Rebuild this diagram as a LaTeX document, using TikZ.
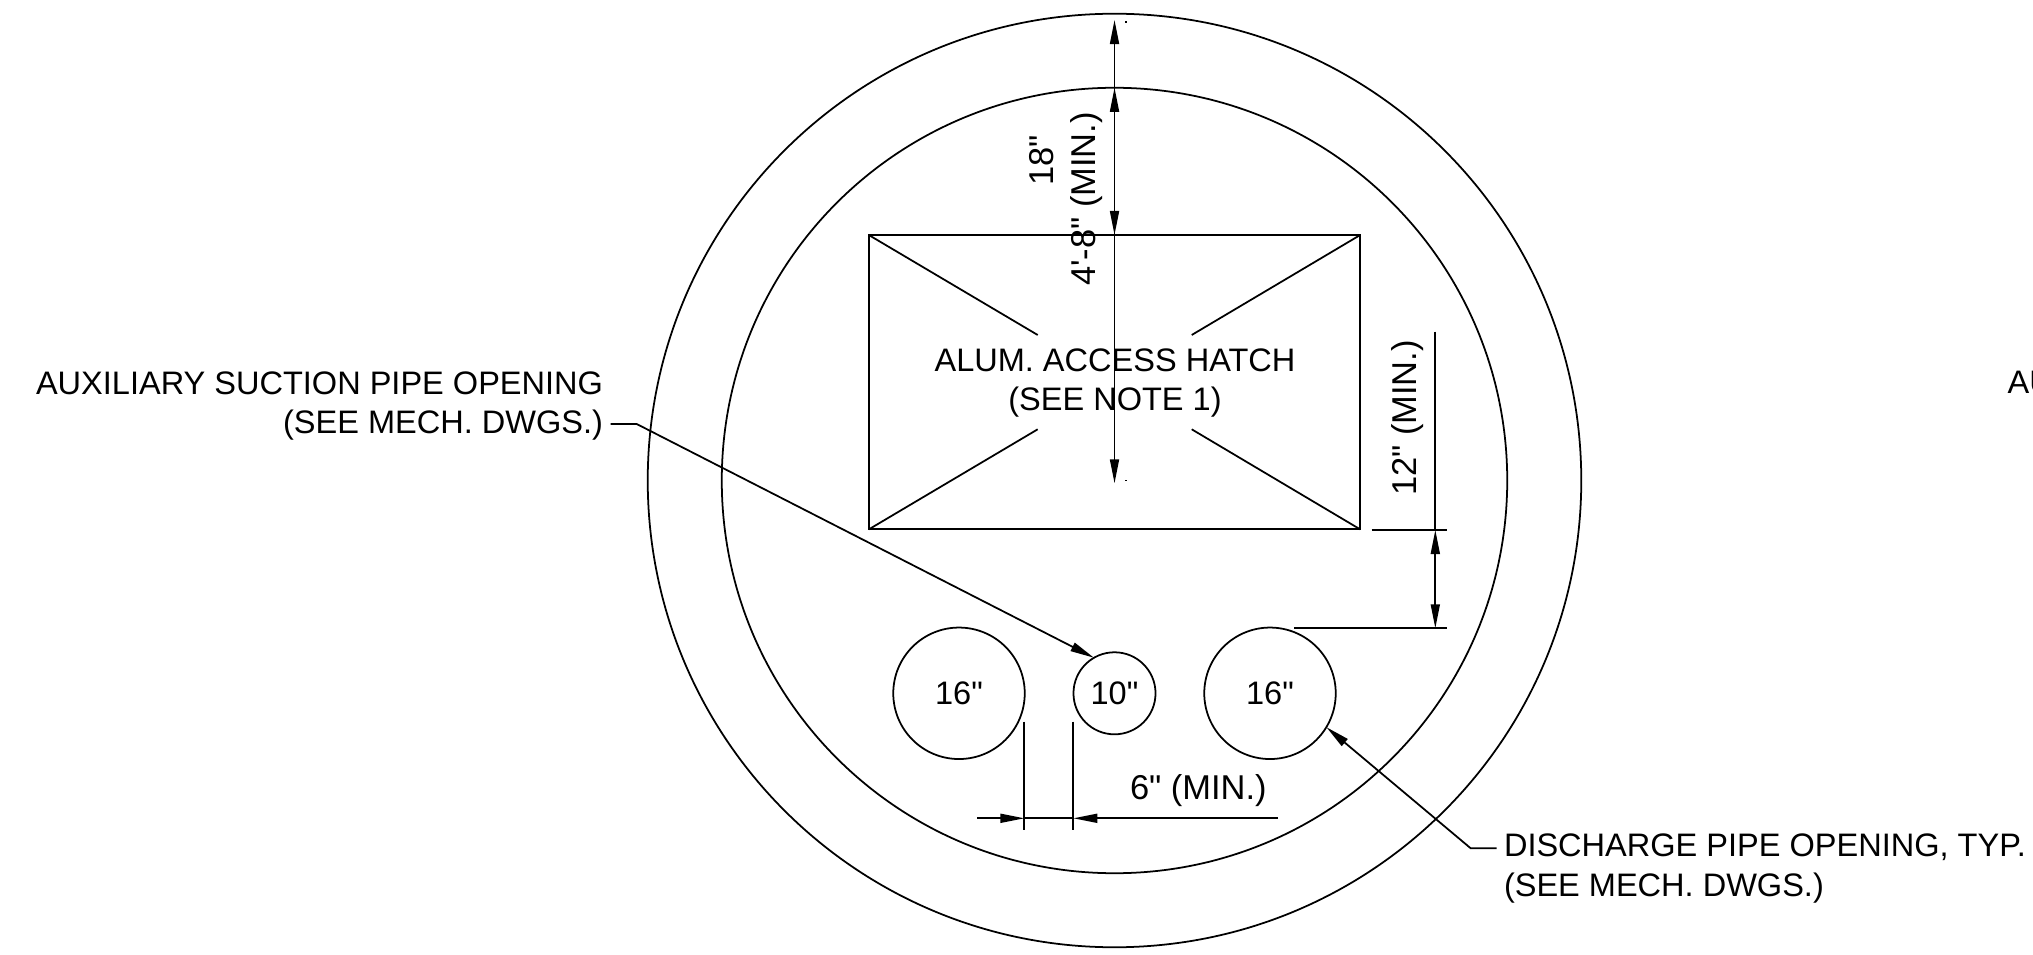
\documentclass[tikz,border=0pt]{standalone}
\usepackage{fontspec}
\newfontfamily\notefont{Liberation Sans}
\usetikzlibrary{arrows.meta}
\tikzset{
    wire/.style={line width=0.5pt},
    dim/.style={wire, {Triangle[length=0.24cm,width=0.09cm]}-{Triangle[length=0.24cm,width=0.09cm]}},
    pointer/.style={wire, -{Triangle[length=0.24cm,width=0.09cm]}},
    ring/.style={circle, draw, wire, inner sep=0pt, outer sep=0pt},
    note/.style={font=\notefont\fontsize{9.25}{11.18}\selectfont, inner sep=0pt, outer sep=0pt},
    dimnote/.style={font=\notefont\fontsize{9.8}{11.8}\selectfont, inner sep=0pt, outer sep=0pt, anchor=base west},
}
\begin{document}
\begin{tikzpicture}[x=0.01cm,y=-0.01cm]
    \useasboundingbox (0,0) rectangle (2033,955);

    \node[ring, minimum size=9.33cm] (outer) at (1114.5,480.5) {};
    \node[ring, minimum size=7.85cm] (inner) at (1114.5,480.5) {};
    \node[draw, line width=0.6pt, inner sep=0pt, outer sep=0pt, minimum width=4.913cm, minimum height=2.943cm] (hatch) at (1114.5,382.2) {};

    \coordinate (gapNW) at (1037.7,335);
    \coordinate (gapNE) at (1191.7,335);
    \coordinate (gapSW) at (1037.7,429.3);
    \coordinate (gapSE) at (1191.7,429.3);
    \draw[wire] (hatch.north west) -- (gapNW);
    \draw[wire] (hatch.north east) -- (gapNE);
    \draw[wire] (hatch.south west) -- (gapSW);
    \draw[wire] (hatch.south east) -- (gapSE);
    \node[note, anchor=base, align=center] (hatchNote) at (1115,410.5) {ALUM. ACCESS HATCH\\(SEE NOTE 1)};

    \node[ring, note, minimum size=1.314cm] (pipeA) at (959,693.3) {16"};
    \node[ring, note, minimum size=0.82cm] (pipeB) at (1114.5,693.3) {10"};
    \node[ring, note, minimum size=1.314cm] (pipeC) at (1270,693.3) {16"};

    % vertical dimensions through the hatch
    \coordinate (topTip) at (1114.5,20);
    \coordinate (midTip) at (1114.5,483.3);
    \draw[dim] (topTip) -- (hatch.north);
    \draw[dim] (inner.north) -- (midTip);
    \fill (1125,21.3) rectangle (1127,22.8);
    \fill (1125,480) rectangle (1127,481.5);
    \node[dimnote, rotate=90] (outerDim) at (1053.3,186) {18"};
    \node[dimnote, rotate=90] (innerDim) at (1095,286) {4'-8" (MIN.)};

    % clearance from hatch to pipes
    \coordinate (clearTop) at (1435.3,530);
    \coordinate (clearBot) at (1435.3,628.3);
    \coordinate (clearEnd) at (1435.3,331.7);
    \coordinate (hatchExtA) at (1371.7,530);
    \coordinate (hatchExtB) at (1446.7,530);
    \coordinate (pipeExtA) at (1294,628.3);
    \coordinate (pipeExtB) at (1446.7,628.3);
    \draw[wire] (hatchExtA) -- (hatchExtB);
    \draw[wire] (pipeExtA) -- (pipeExtB);
    \draw[wire] (clearEnd) -- (clearTop);
    \draw[dim] (clearTop) -- (clearBot);
    \node[dimnote, rotate=90] (clearDim) at (1416,496) {12" (MIN.)};

    % gap between pipes
    \coordinate (gapTopA) at (1024.3,721.7);
    \coordinate (gapBotA) at (1024.3,830);
    \coordinate (gapTopB) at (1073.3,721.7);
    \coordinate (gapBotB) at (1073.3,830);
    \coordinate (gapTipA) at (1024.3,818.3);
    \coordinate (gapTipB) at (1073.3,818.3);
    \coordinate (gapTailA) at (977,818.3);
    \coordinate (gapTailB) at (1278,818.3);
    \draw[wire] (gapTopA) -- (gapBotA);
    \draw[wire] (gapTopB) -- (gapBotB);
    \draw[wire] (gapTipA) -- (gapTipB);
    \draw[pointer] (gapTailA) -- (gapTipA);
    \draw[pointer] (gapTailB) -- (gapTipB);
    \node[dimnote] (gapDim) at (1130,799) {6" (MIN.)};

    % leaders
    \node[note, anchor=base east, align=right] (auxNote) at (603,433.5) {AUXILIARY SUCTION PIPE OPENING\\(SEE MECH. DWGS.)};
    \coordinate (auxStart) at (610.7,424);
    \coordinate (auxKnee) at (636.7,424);
    \draw[pointer] (auxStart) -- (auxKnee) -- (pipeB.120);

    \node[note, anchor=base west, align=left] (dischargeNote) at (1504,896.2) {DISCHARGE PIPE OPENING, TYP.\\(SEE MECH. DWGS.)};
    \coordinate (dischargeStart) at (1496.7,848.3);
    \coordinate (dischargeKnee) at (1470.7,848.3);
    \draw[pointer] (dischargeStart) -- (dischargeKnee) -- (pipeC.-31);

    \node[note, anchor=base west] (cutNote) at (2007.7,394) {AU};
\end{tikzpicture}
\end{document}
